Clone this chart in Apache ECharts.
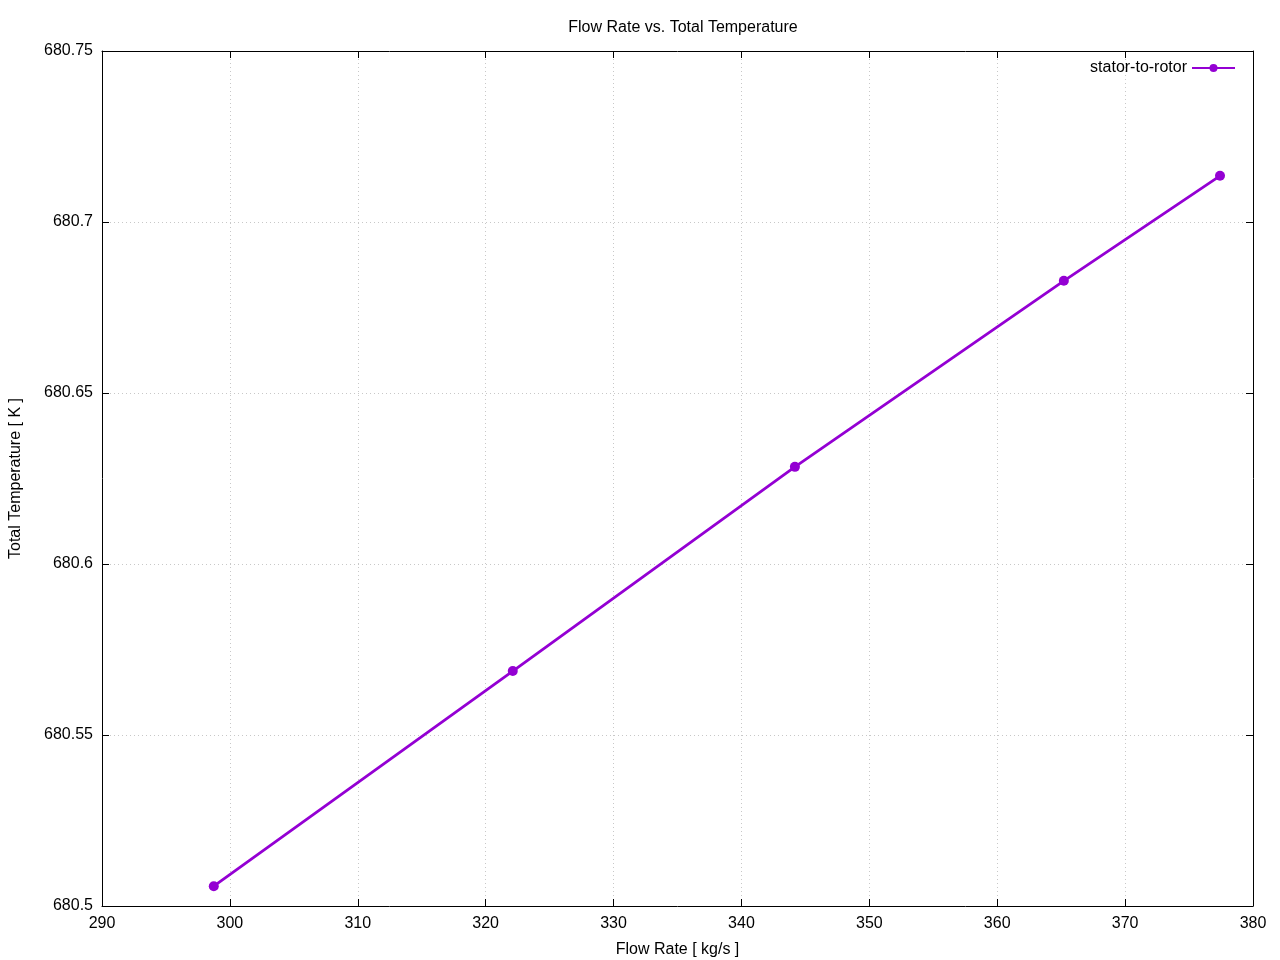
<!DOCTYPE html>
<html><head><meta charset="utf-8">
<script src="https://cdn.jsdelivr.net/npm/echarts@6/dist/echarts.min.js"></script>
<style>html,body{margin:0;padding:0;background:#fff}#c{width:1280px;height:960px}</style>
</head><body><div id="c"></div>
<script>
const flowRate = [298.74, 322.12, 344.18, 365.21, 377.42];
const totalTemp = [680.5058, 680.5687, 680.6284, 680.6828, 680.7135];
const seriesName = 'stator-to-rotor';
const xTicks = [290, 300, 310, 320, 330, 340, 350, 360, 370, 380];
const yTicks = [680.5, 680.55, 680.6, 680.65, 680.7, 680.75];

const font = '"Liberation Sans", Arial, sans-serif';
const chart = echarts.init(document.getElementById('c'), null, {renderer: 'canvas'});
const fmtY = v => String(parseFloat(v.toFixed(2)));
const base = {
  axisLine: {show: true, lineStyle: {color: '#000', width: 1}},
  axisTick: {show: true, inside: true, length: 7, lineStyle: {color: '#000'}},
};
chart.setOption({
  animation: false,
  textStyle: {fontFamily: font},
  title: {text: 'Flow Rate vs. Total Temperature', left: 678, top: 15,
    textAlign: 'center',
    textStyle: {fontSize: 16, fontWeight: 'normal', color: '#000', fontFamily: font}},
  legend: {right: 39, top: 55, align: 'right', itemWidth: 43, itemHeight: 10, itemGap: 8,
    textStyle: {fontSize: 16, color: '#000', fontFamily: font}, data: [seriesName]},
  grid: {left: 102, right: 27, top: 51, bottom: 54, containLabel: false, outerBoundsMode: 'none'},
  xAxis: [
    Object.assign({type: 'value', min: xTicks[0], max: xTicks[xTicks.length-1], interval: 10,
      name: 'Flow Rate [ kg/s ]', nameLocation: 'middle', nameGap: 36,
      nameTextStyle: {fontSize: 16, color: '#000', fontFamily: font},
      axisLabel: {fontSize: 16, color: '#000', margin: 10, fontFamily: font},
      splitLine: {show: true, lineStyle: {type: [1, 3], color: '#c8c8c8'}}}, base),
    Object.assign({type: 'value', position: 'top', min: xTicks[0], max: xTicks[xTicks.length-1], interval: 10,
      axisLabel: {show: false}, splitLine: {show: false}}, base)
  ],
  yAxis: [
    Object.assign({type: 'value', min: yTicks[0], max: yTicks[yTicks.length-1], interval: 0.05,
      name: 'Total Temperature [ K ]', nameLocation: 'middle', nameGap: 78,
      nameTextStyle: {fontSize: 16, color: '#000', fontFamily: font},
      axisLabel: {fontSize: 16, color: '#000', margin: 9, formatter: fmtY, fontFamily: font},
      splitLine: {show: true, lineStyle: {type: [1, 3], color: '#c8c8c8'}}}, base),
    Object.assign({type: 'value', position: 'right', min: yTicks[0], max: yTicks[yTicks.length-1], interval: 0.05,
      axisLabel: {show: false}, splitLine: {show: false}}, base)
  ],
  series: [{
    name: seriesName, type: 'line', xAxisIndex: 0, yAxisIndex: 0,
    data: flowRate.map((x, i) => [x, totalTemp[i]]),
    symbol: 'circle', symbolSize: 10, showAllSymbol: true,
    lineStyle: {color: '#9400D3', width: 2.8},
    itemStyle: {color: '#9400D3'}
  }]
});
</script></body></html>
